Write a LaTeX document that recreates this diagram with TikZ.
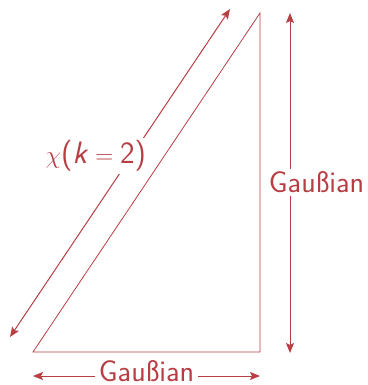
\documentclass[tikz,border=0pt]{standalone}
\usetikzlibrary{arrows.meta}
\definecolor{ink}{RGB}{184,62,68}
\begin{document}
\begin{tikzpicture}[x=1pt,y=-1pt,
  edge/.style={draw=ink,line width=0.8pt},
  dim/.style={draw=ink,line width=1pt,{Stealth[length=10pt,width=8pt,inset=2pt]}-{Stealth[length=10pt,width=8pt,inset=2pt]}},
  lbl/.style={fill=white,text=ink,inner xsep=0.4em,inner ysep=0.28em,font=\fontsize{30}{36}\selectfont\sffamily}]
\useasboundingbox (0,0) rectangle (367,385);
% triangle
\coordinate (A) at (33,352);
\coordinate (B) at (260,352);
\coordinate (C) at (260,13);
\draw[edge] (A) -- (B) -- (C) -- cycle;
% dimension arrow end points
\coordinate (d1) at (10,337);
\coordinate (d2) at (230,9);
\coordinate (v1) at (290,13);
\coordinate (v2) at (290,353);
\coordinate (h1) at (33,376);
\coordinate (h2) at (260,376);
\draw[dim] (d1) -- (d2);
\draw[dim] (v1) -- (v2);
\draw[dim] (h1) -- (h2);
% labels
\node[lbl,font=\fontsize{31}{37}\selectfont\sffamily] (chi) at (96,156) {$\chi$(\textsl{k}${}={}$2)};
\node[lbl] (gv) at (316.5,182.5) {Gaußian};
\node[lbl,inner ysep=1pt] (gh) at (146.5,371.5) {Gaußian};
\end{tikzpicture}
\end{document}
